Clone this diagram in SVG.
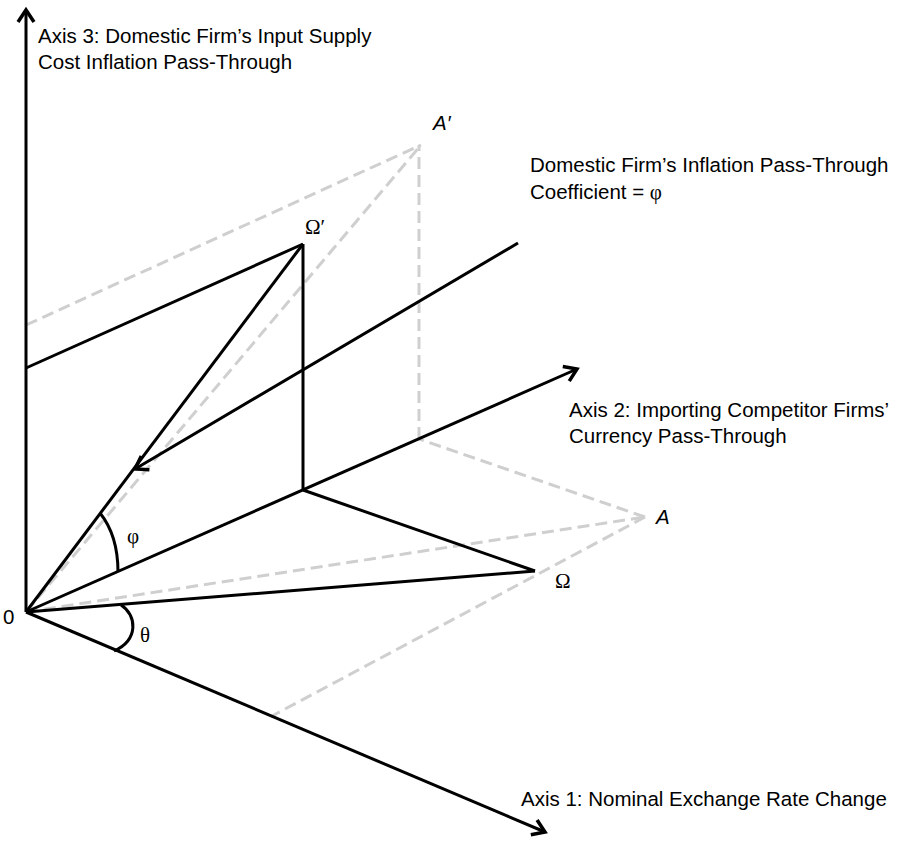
<svg xmlns="http://www.w3.org/2000/svg" width="901" height="842" viewBox="0 0 901 842">
  <style>
    .ln { stroke: #000; stroke-width: 3; fill: none; stroke-linecap: butt; }
    .dash { stroke: #cfcfcf; stroke-width: 3; fill: none; stroke-dasharray: 12 6; }
    .lbl { font-family: "Liberation Sans", Arial, sans-serif; font-size: 20.5px; fill: #000; }
    .it { font-style: italic; }
    .gk { font-family: "Liberation Serif", "DejaVu Serif", serif; font-size: 21px; fill: #000; }
  </style>
  <defs>
    <marker id="open" markerUnits="userSpaceOnUse" markerWidth="30" markerHeight="30" viewBox="-15 -15 30 30" refX="0" refY="0" orient="auto" overflow="visible">
      <path d="M-12,-8 L0,0 L-12,8" fill="none" stroke="#000" stroke-width="3.5" stroke-linejoin="miter"/>
    </marker>
  </defs>

  <!-- dashed projection of A / A' -->
  <g id="projection-A">
    <path class="dash" d="M26,612 L645,517"/>
    <path class="dash" d="M645,517 L272,716"/>
    <path class="dash" d="M645,517 L419,439"/>
    <path class="dash" d="M419,439 L419,145"/>
    <path class="dash" d="M26,612 L421,145"/>
    <path class="dash" d="M26,325 L421,145"/>
  </g>

  <!-- connectors: axes and solid projection of Omega -->
  <g id="connectors">
    <path class="ln" d="M26,612 L26,10" marker-end="url(#open)"/>
    <path class="ln" d="M26,612 L545,832" marker-end="url(#open)"/>
    <path class="ln" d="M26,612 L577,369" marker-end="url(#open)"/>
    <path class="ln" d="M26,612 L535,571"/>
    <path class="ln" d="M303,490 L535,571"/>
    <path class="ln" d="M303,490 L303,244"/>
    <path class="ln" d="M26,612 L303,244"/>
    <path class="ln" d="M26,368 L303,244"/>
    <path class="ln" d="M518,243 L135,469" marker-end="url(#open)"/>
    <!-- angle arcs -->
    <path class="ln" d="M100,513 C112,528 118,548 118,572"/>
    <path class="ln" d="M121,605 C137,615 139,640 114,651"/>
  </g>

  <g id="axis3-label">
    <text class="lbl" x="38" y="43">Axis 3: Domestic Firm’s Input Supply</text>
    <text class="lbl" x="38" y="69">Cost Inflation Pass-Through</text>
  </g>
  <g id="point-A-prime">
    <text class="lbl it" x="433" y="130">A′</text>
  </g>
  <g id="coefficient-label">
    <text class="lbl" x="530" y="172">Domestic Firm’s Inflation Pass-Through</text>
    <text class="lbl" x="530" y="199">Coefficient = <tspan class="gk">φ</tspan></text>
  </g>
  <g id="point-Omega-prime">
    <text class="gk" x="305" y="234">Ω′</text>
  </g>
  <g id="axis2-label">
    <text class="lbl" x="569" y="417">Axis 2: Importing Competitor Firms’</text>
    <text class="lbl" x="569" y="443">Currency Pass-Through</text>
  </g>
  <g id="point-A">
    <text class="lbl it" x="656" y="524">A</text>
  </g>
  <g id="point-Omega">
    <text class="gk" x="555" y="588">Ω</text>
  </g>
  <g id="angle-phi">
    <text class="gk" x="127" y="543">φ</text>
  </g>
  <g id="angle-theta">
    <text class="gk" x="140" y="642">θ</text>
  </g>
  <g id="origin">
    <text class="lbl" x="3" y="624">0</text>
  </g>
  <g id="axis1-label">
    <text class="lbl" x="521" y="806">Axis 1: Nominal Exchange Rate Change</text>
  </g>
</svg>
